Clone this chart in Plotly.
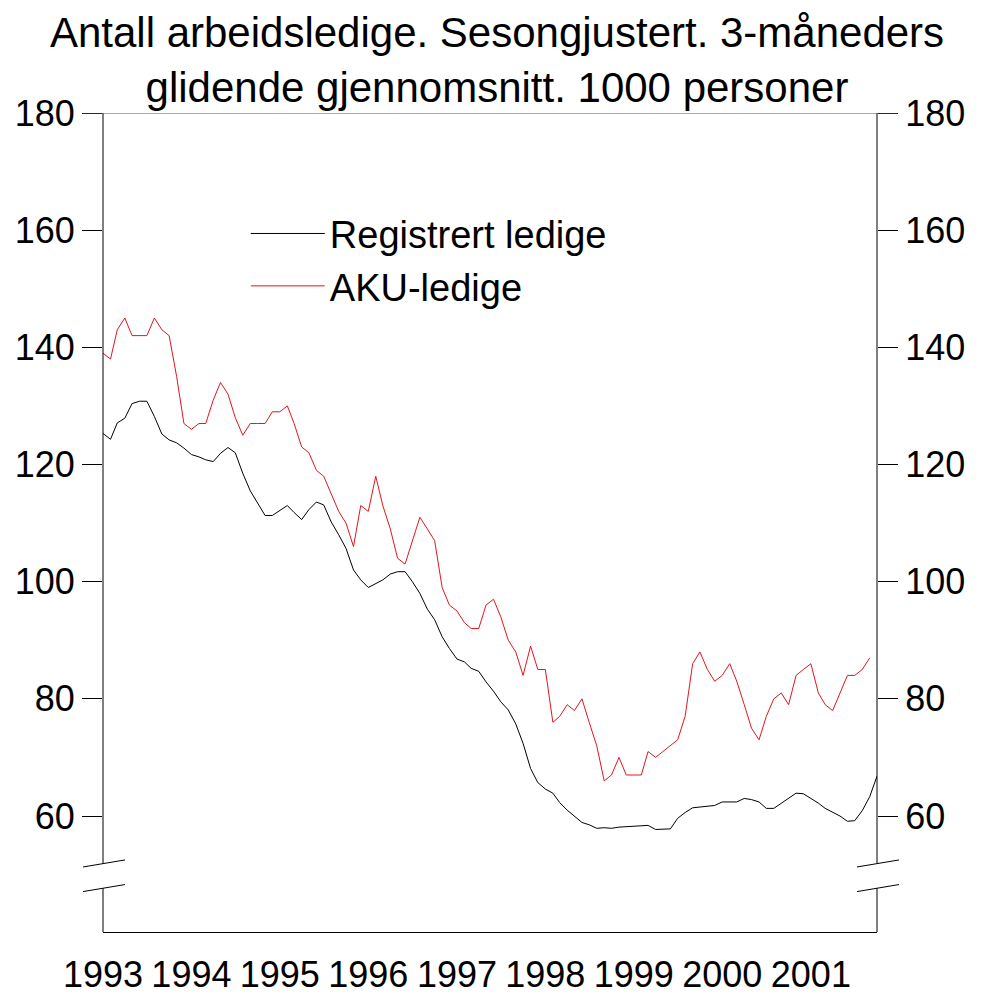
import pandas as pd
import plotly.graph_objects as go

# ---------------- data ----------------
months = pd.date_range("1993-01-01", periods=106, freq="MS")

registrert = [
    125.3, 124.3, 127.1, 127.9, 130.4, 130.8, 130.8, 128.2, 125.2, 124.2, 123.7, 122.8,
    121.7, 121.3, 120.8, 120.5, 121.9, 122.9, 122.0, 118.5, 115.5, 113.5, 111.3, 111.3,
    112.1, 113.0, 111.8, 110.6, 112.3, 113.6, 113.1, 110.2, 108.0, 105.7, 102.0, 100.3,
    99.0, 99.6, 100.3, 101.3, 101.7, 101.7, 100.0, 98.0, 95.3, 93.5, 90.6, 88.6,
    86.8, 86.3, 85.2, 84.7, 82.9, 81.3, 79.5, 78.1, 75.7, 72.4, 68.1, 65.7,
    64.6, 63.9, 62.3, 61.0, 59.9, 58.9, 58.5, 57.9, 58.0, 57.9, 58.1, 58.2,
    58.3, 58.3, 58.4, 57.7, 57.8, 57.8, 59.6, 60.6, 61.4, 61.5, 61.6, 61.8,
    62.4, 62.4, 62.4, 63.0, 62.8, 62.4, 61.3, 61.3, 62.2, 63.0, 63.9, 63.8,
    63.0, 62.2, 61.3, 60.7, 60.0, 59.1, 59.2, 60.9, 63.3, 66.8,
]

aku = [
    139, 138, 143, 145, 142, 142, 142, 145, 143, 142, 135, 127,
    126, 127, 127, 131, 134, 132, 128, 125, 127, 127, 127, 129,
    129, 130, 127, 123, 122, 119, 118, 115, 112, 110, 106, 113,
    112, 118, 113, 109, 104, 103, 107, 111, 109, 107, 99, 96,
    95, 93, 92, 92, 96, 97, 94, 90, 88, 84, 89, 85,
    85, 76, 77, 79, 78, 80, 76, 72, 66, 67, 70, 67,
    67, 67, 71, 70, 71, 72, 73, 77, 86, 88, 85, 83,
    84, 86, 83, 79, 75, 73, 77, 80, 81, 79, 84, 85,
    86, 81, 79, 78, 81, 84, 84, 85, 87,
]

y_ticks = [60, 80, 100, 120, 140, 160, 180]
year_ticks = [f"{y}-01-01" for y in range(1993, 2002)]
year_labels = [str(y) for y in range(1993, 2002)]

series_names = ["Registrert ledige", "AKU-ledige"]
series_colors = ["#000000", "#e0161e"]

title_text = ("Antall arbeidsledige. Sesongjustert. 3-måneders<br>"
              "glidende gjennomsnitt. 1000 personer")

# ---------------- figure ----------------
FONT = "Liberation Sans, Arial, Helvetica, sans-serif"
Y_MIN, Y_MAX = 40.2, 180

fig = go.Figure()
fig.add_trace(go.Scatter(x=months, y=registrert, mode="lines", name=series_names[0],
                         line=dict(color=series_colors[0], width=1)))
fig.add_trace(go.Scatter(x=months[:len(aku)], y=aku, mode="lines", name=series_names[1],
                         line=dict(color=series_colors[1], width=1)))
# invisible trace to carry the right-hand axis
fig.add_trace(go.Scatter(x=[months[0]], y=[Y_MAX], yaxis="y2", mode="markers",
                         marker=dict(opacity=0), showlegend=False, hoverinfo="skip"))

PLOT_W = 774.0
tick_px = 20.0
dx = tick_px / PLOT_W

shapes = []
line_style = dict(color="black", width=1)
# break positions (data units)
b_hi, b_lo = 51.9, 47.7
slope = 0.6
for xa in (0.0, 1.0):
    shapes.append(dict(type="line", xref="paper", yref="y", x0=xa, x1=xa,
                       y0=Y_MAX, y1=b_hi, line=line_style))
    shapes.append(dict(type="line", xref="paper", yref="y", x0=xa, x1=xa,
                       y0=b_lo, y1=Y_MIN, line=line_style))
    for b in (b_hi, b_lo):
        shapes.append(dict(type="line", xref="paper", yref="y",
                           x0=xa - dx, x1=xa + 1.1 * dx,
                           y0=b - slope, y1=b + slope, line=line_style))
# top frame line
shapes.append(dict(type="line", xref="paper", yref="y", x0=-dx, x1=1 + dx,
                   y0=Y_MAX, y1=Y_MAX, line=dict(color="#555555", width=1)))

# the page body adds an 8px offset, so the figure is 8px smaller on each axis
fig.update_layout(
    width=978, height=987,
    margin=dict(l=95, r=109, t=105, b=63),
    paper_bgcolor="white", plot_bgcolor="white",
    font=dict(family=FONT, color="black", size=36),
    title=dict(text=title_text, x=0.5, xref="container", xanchor="center",
               y=0.960, yref="container", yanchor="top",
               font=dict(size=42, family=FONT, color="black")),
    showlegend=True,
    legend=dict(x=0.1845, y=0.891, xanchor="left", yanchor="top",
                bgcolor="rgba(0,0,0,0)", font=dict(size=38, family=FONT),
                itemwidth=74, tracegroupgap=0),
    xaxis=dict(type="date", range=[months[0], months[-1]], automargin=False,
               tickmode="array", tickvals=year_ticks, ticktext=year_labels,
               ticks="", showgrid=False, zeroline=False,
               showline=True, linecolor="black", linewidth=1,
               ticklabelstandoff=11, tickfont=dict(size=36)),
    yaxis=dict(range=[Y_MIN, Y_MAX], tickmode="array", tickvals=y_ticks,
               automargin=False,
               ticks="outside", ticklen=20, tickcolor="black", tickwidth=1,
               showgrid=False, zeroline=False, showline=False,
               tickfont=dict(size=36)),
    yaxis2=dict(range=[Y_MIN, Y_MAX], overlaying="y", side="right",
                tickmode="array", tickvals=y_ticks, automargin=False,
                ticks="outside", ticklen=20, tickcolor="black", tickwidth=1,
                showgrid=False, zeroline=False, showline=False,
                tickfont=dict(size=36)),
    shapes=shapes,
)

fig.write_html("out.html")
